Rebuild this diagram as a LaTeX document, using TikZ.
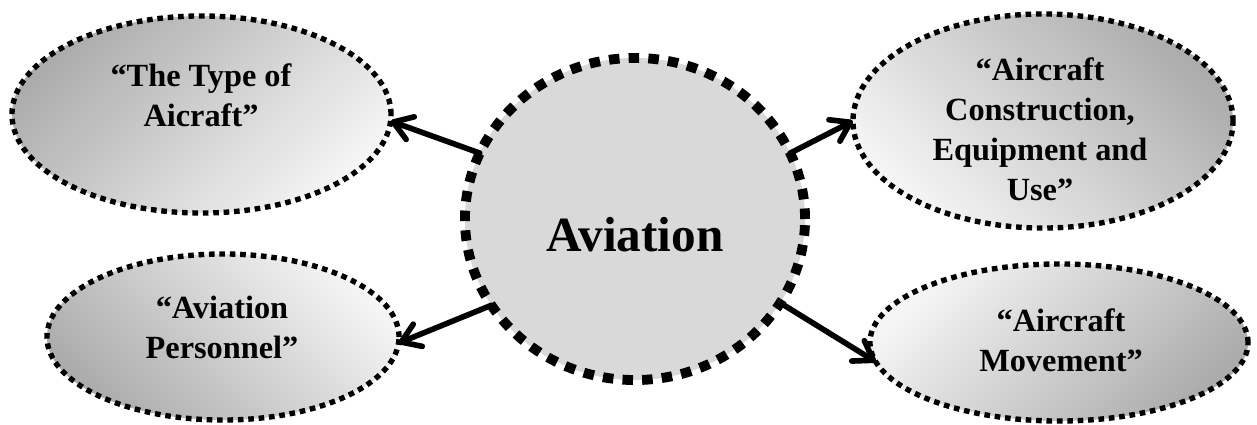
\documentclass[tikz,border=0pt]{standalone}
\usepackage{fontspec}
\setmainfont{Liberation Serif}
\usetikzlibrary{arrows.meta,shapes.geometric}
\definecolor{shadedark}{RGB}{172,172,172}
\definecolor{shadelight}{RGB}{245,245,245}
\definecolor{hubfill}{RGB}{217,217,217}
\begin{document}
\begin{tikzpicture}[x=0.025cm,y=-0.025cm,
  topic/.style={ellipse, inner sep=0pt, outer sep=0pt, draw=black,
    line width=3.8pt, dash pattern=on 4pt off 3.4pt},
  hub/.style={ellipse, inner sep=0pt, outer sep=0pt, fill=hubfill, draw=black,
    line width=7pt, dash pattern=on 7.5pt off 6.5pt},
  topictext/.style={font=\bfseries\fontsize{23}{28.5}\selectfont, align=center},
  link/.style={line width=4pt, line cap=round,
    -{Straight Barb[length=0.45cm,width=0.6cm,line join=round,line cap=round]}}
]
\useasboundingbox (0,0) rectangle (1257,425);

% four topic ellipses with diagonal gray shading
\node[topic, minimum width=9.475cm, minimum height=4.925cm,
  top color=shadedark, bottom color=shadelight, shading angle=45] (tl) at (201.5,114.5) {};
\node[topic, minimum width=9.5cm, minimum height=5.35cm,
  top color=shadedark, bottom color=shadelight, shading angle=-45] (tr) at (1043,121) {};
\node[topic, minimum width=8.8cm, minimum height=4.15cm,
  top color=shadedark, bottom color=shadelight, shading angle=135] (bl) at (223,337) {};
\node[topic, minimum width=9.45cm, minimum height=3.925cm,
  top color=shadedark, bottom color=shadelight, shading angle=225] (br) at (1059,342.5) {};

% central hub
\node[hub, minimum width=8.5cm, minimum height=8.05cm] (hub) at (635,219) {};

% texts
\node[topictext] (tlt) at (201,95) {“The Type of\\Aicraft”};
\node[topictext] (trt) at (1040,129) {“Aircraft\\Construction,\\Equipment and\\Use”};
\node[topictext] (blt) at (222,327) {“Aviation\\Personnel”};
\node[topictext] (brt) at (1061,340) {“Aircraft\\Movement”};
\node[font=\bfseries\fontsize{35}{40}\selectfont, anchor=base] (hubt) at (635,252) {Aviation};

% connectors
\draw[link] (hub.157) -- (tl.-2);
\draw[link] (hub.23) -- (tr.180);
\draw[link] (hub.211) -- (bl.-2);
\draw[link] (hub.-30) -- (br.186);
\end{tikzpicture}
\end{document}
